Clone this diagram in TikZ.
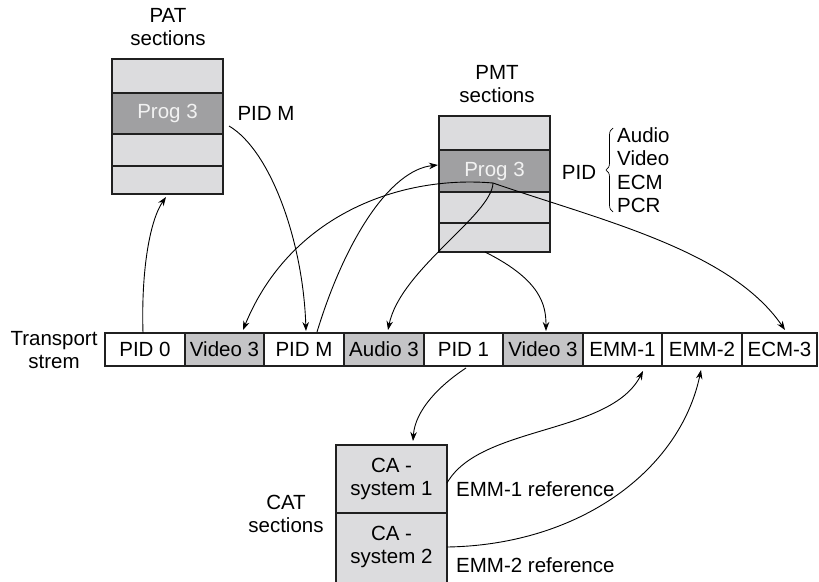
\documentclass[tikz,border=0pt]{standalone}
\usepackage{fontspec}
\setmainfont{Liberation Sans}
\usetikzlibrary{arrows.meta,decorations.pathreplacing,calc}
\definecolor{lightg}{HTML}{DCDCDE}
\definecolor{darkg}{HTML}{A0A0A2}
\definecolor{midg}{HTML}{C4C4C6}
\definecolor{edge}{HTML}{202020}
\begin{document}
\begin{tikzpicture}[x=1pt,y=-1pt,
  every node/.style={font=\fontsize{20.5}{23.5}\selectfont},
  row/.style={draw=edge,line width=1.2pt,fill=lightg,minimum width=111pt,inner sep=0pt,outer sep=0pt},
  hrow/.style={row,fill=darkg,text=white!95!black},
  cell/.style={draw=edge,line width=1.2pt,fill=white,minimum height=33pt,inner sep=0pt,outer sep=0pt},
  scell/.style={cell,fill=midg},
  lbl/.style={inner sep=0pt,align=center},
  conn/.style={line width=0.9pt,-{Stealth[length=9pt,width=6.5pt]}},
  plain/.style={line width=0.9pt}]
\useasboundingbox (0,0) rectangle (819,581);
% PAT
\node[lbl] (patl) at (168,27) {PAT\\sections};
\node[row,minimum height=34pt] (pat1) at (167.5,76) {};
\node[hrow,minimum height=41pt] (pat2) at (167.5,113.5) {Prog 3};
\node[row,minimum height=32pt] (pat3) at (167.5,150) {};
\node[row,minimum height=28pt] (pat4) at (167.5,180) {};
\node[lbl] (pidm) at (266,113) {PID M};
% PMT
\node[lbl] (pmtl) at (497,84) {PMT\\sections};
\node[row,minimum height=34pt] (pmt1) at (494.5,133) {};
\node[hrow,minimum height=42pt] (pmt2) at (494.5,171) {Prog 3};
\node[row,minimum height=31pt] (pmt3) at (494.5,207.5) {};
\node[row,minimum height=29pt] (pmt4) at (494.5,237.5) {};
\node[lbl] (pidl) at (579,172) {PID};
\draw[line width=0.7pt,decorate,decoration={brace,amplitude=7pt}] (613,212) -- (613,128);
\node[lbl,anchor=west,align=left] (plist) at (617,170) {Audio\\Video\\ECM\\PCR};
% Transport stream
\node[lbl] (tsl) at (54,350) {Transport\\strem};
\node[cell,minimum width=80pt] (c1) at (145,349.5) {PID 0};
\node[scell,minimum width=79pt] (c2) at (224.5,349.5) {Video 3};
\node[cell,minimum width=80pt] (c3) at (304,349.5) {PID M};
\node[scell,minimum width=80pt] (c4) at (384,349.5) {Audio 3};
\node[cell,minimum width=79pt] (c5) at (463.5,349.5) {PID 1};
\node[scell,minimum width=80pt] (c6) at (543,349.5) {Video 3};
\node[cell,minimum width=79pt] (c7) at (622.5,349.5) {EMM-1};
\node[cell,minimum width=80pt] (c8) at (702,349.5) {EMM-2};
\node[cell,minimum width=75pt] (c9) at (779.5,349.5) {ECM-3};
% CAT
\node[lbl] (catl) at (286,514) {CAT\\sections};
\node[row,minimum height=68pt,align=center] (cas1) at (391.5,479) {CA -\\system 1};
\node[row,minimum height=90pt] (cas2) at (391.5,558) {};
\node[lbl] (cas2t) at (391.5,547) {CA -\\system 2};
\node[lbl,anchor=west] (emm1r) at (456,489) {EMM-1 reference};
\node[lbl,anchor=west] (emm2r) at (456,565) {EMM-2 reference};
% connectors
\coordinate (hub) at ($(pmt2.center)+(-1.5,12)$);
\draw[conn] ($(c1.north)+(-2,0)$) .. controls (141,270) and (150,220) .. ($(pat4.south)+(-1.5,3)$);
\draw[conn] ($(pat2.east)+(6,12.5)$) .. controls (270,150) and (303,240) .. ($(c3.north)+(2,-2)$);
\draw[conn] ($(c3.north)+(13,-1)$) .. controls (345,240) and (390,170) .. ($(pmt2.west)+(-1,-6)$);
\draw[conn] (hub) .. controls (400,175) and (290,215) .. ($(c2.north)+(18.5,-3)$);
\draw[conn] (hub) .. controls (492,215) and (400,270) .. ($(c4.north)+(4,-3)$);
\draw[conn] ($(pmt4.south)+(-9.5,0)$) .. controls (541,280) and (546,305) .. ($(c6.north)+(3,-2)$);
\draw[conn] (hub) .. controls (600,220) and (730,250) .. ($(c9.north)+(5.5,-3)$);
\draw[conn] ($(c5.south)+(2.5,2)$) .. controls (440,385) and (415,410) .. ($(cas1.north)+(21.5,-4)$);
\draw[conn] ($(cas1.east)+(0,4)$) .. controls (480,425) and (610,435) .. ($(c7.south)+(20.5,5)$);
\draw[conn] ($(cas2.east)+(0,-11)$) .. controls (580,545) and (680,470) .. ($(c8.south)+(-1,4)$);
\end{tikzpicture}
\end{document}
